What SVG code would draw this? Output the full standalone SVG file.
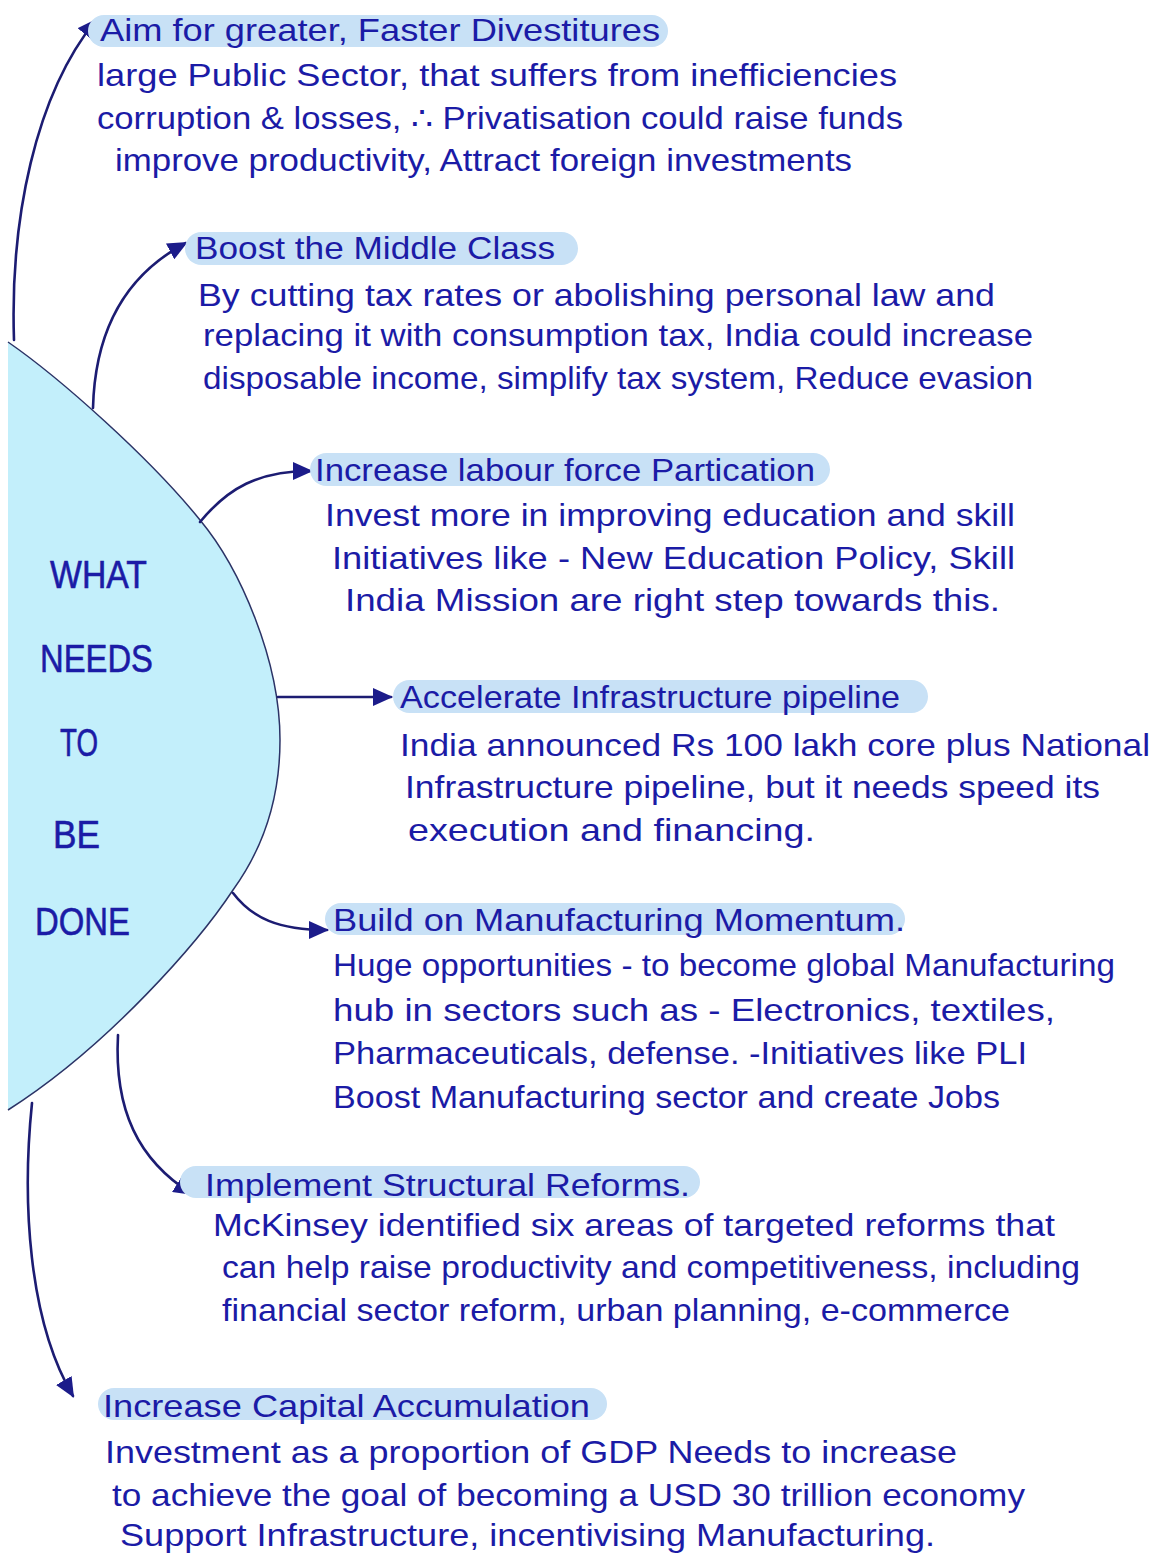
<svg xmlns="http://www.w3.org/2000/svg" width="1154" height="1557" viewBox="0 0 1154 1557">
  <style>
    .ink { font-family: "Liberation Sans", Arial, sans-serif; font-size: 32px; fill: #1b1ba6; }
    .hub { font-family: "Liberation Sans", Arial, sans-serif; font-size: 39px; fill: #1b1ba6; stroke: #1b1ba6; stroke-width: 0.6; }
    .bar { fill: #c8e1f6; }
    .link { fill: none; stroke: #1c1c72; stroke-width: 2.6; stroke-linecap: round; marker-end: url(#tip); }
  </style>
  <defs>
    <marker id="tip" markerUnits="userSpaceOnUse" markerWidth="22" markerHeight="18" refX="18" refY="9" orient="auto">
      <path d="M0,0 L20,9 L0,18 z" fill="#1c1c8a"/>
    </marker>
  </defs>

  <rect width="1154" height="1557" fill="#ffffff"/>

  <!-- central half-disc -->
  <g id="hub">
    <path d="M 8 342 C 60 378, 150 458, 200 520 C 240 568, 280 660, 280 740 C 280 800, 262 850, 233 890 C 200 940, 110 1045, 8 1110 Z" fill="#c3effb"/>
    <path d="M 8 342 C 60 378, 150 458, 200 520 C 240 568, 280 660, 280 740 C 280 800, 262 850, 233 890 C 200 940, 110 1045, 8 1110" fill="none" stroke="#2b3366" stroke-width="1.5"/>
    <text class="hub" x="50" y="588" textLength="97" lengthAdjust="spacingAndGlyphs">WHAT</text>
    <text class="hub" x="40" y="672" textLength="113" lengthAdjust="spacingAndGlyphs">NEEDS</text>
    <text class="hub" x="60" y="756" textLength="38" lengthAdjust="spacingAndGlyphs">TO</text>
    <text class="hub" x="53" y="848" textLength="47" lengthAdjust="spacingAndGlyphs">BE</text>
    <text class="hub" x="35" y="935" textLength="95" lengthAdjust="spacingAndGlyphs">DONE</text>
  </g>

  <!-- connectors from the hub to each point -->
  <g id="connectors">
    <path class="link" d="M 14 340 C 10 220, 35 95, 96 20"/>
    <path class="link" d="M 93 408 C 95 330, 125 275, 186 243"/>
    <path class="link" d="M 200 522 C 228 488, 258 471, 311 471"/>
    <path class="link" d="M 278 697 L 391 697"/>
    <path class="link" d="M 233 893 C 252 918, 278 930, 327 930"/>
    <path class="link" d="M 118 1035 C 114 1110, 138 1160, 192 1194"/>
    <path class="link" d="M 32 1103 C 22 1200, 28 1320, 73 1396"/>
  </g>

  <g id="divestitures">
    <rect class="bar" x="88" y="15" width="580" height="32" rx="16"/>
    <text class="ink" x="100" y="41" textLength="560" lengthAdjust="spacingAndGlyphs">Aim for greater, Faster Divestitures</text>
    <text class="ink" x="97" y="86" textLength="800" lengthAdjust="spacingAndGlyphs">large Public Sector, that suffers from inefficiencies</text>
    <text class="ink" x="97" y="129" textLength="806" lengthAdjust="spacingAndGlyphs">corruption &amp; losses, ∴ Privatisation could raise funds</text>
    <text class="ink" x="115" y="171" textLength="737" lengthAdjust="spacingAndGlyphs">improve productivity, Attract foreign investments</text>
  </g>

  <g id="middle-class">
    <rect class="bar" x="185" y="232" width="393" height="33" rx="16.5"/>
    <text class="ink" x="195" y="259" textLength="360" lengthAdjust="spacingAndGlyphs">Boost the Middle Class</text>
    <text class="ink" x="198" y="306" textLength="797" lengthAdjust="spacingAndGlyphs">By cutting tax rates or abolishing personal law and</text>
    <text class="ink" x="203" y="346" textLength="830" lengthAdjust="spacingAndGlyphs">replacing it with consumption tax, India could increase</text>
    <text class="ink" x="203" y="389" textLength="830" lengthAdjust="spacingAndGlyphs">disposable income, simplify tax system, Reduce evasion</text>
  </g>

  <g id="labour-force">
    <rect class="bar" x="310" y="453" width="520" height="33" rx="16.5"/>
    <text class="ink" x="315" y="481" textLength="500" lengthAdjust="spacingAndGlyphs">Increase labour force Partication</text>
    <text class="ink" x="325" y="526" textLength="690" lengthAdjust="spacingAndGlyphs">Invest more in improving education and skill</text>
    <text class="ink" x="332" y="569" textLength="683" lengthAdjust="spacingAndGlyphs">Initiatives like - New Education Policy, Skill</text>
    <text class="ink" x="345" y="611" textLength="655" lengthAdjust="spacingAndGlyphs">India Mission are right step towards this.</text>
  </g>

  <g id="infrastructure">
    <rect class="bar" x="393" y="680" width="535" height="33" rx="16.5"/>
    <text class="ink" x="400" y="708" textLength="500" lengthAdjust="spacingAndGlyphs">Accelerate Infrastructure pipeline</text>
    <text class="ink" x="400" y="756" textLength="750" lengthAdjust="spacingAndGlyphs">India announced Rs 100 lakh core plus National</text>
    <text class="ink" x="405" y="798" textLength="695" lengthAdjust="spacingAndGlyphs">Infrastructure pipeline, but it needs speed its</text>
    <text class="ink" x="408" y="841" textLength="407" lengthAdjust="spacingAndGlyphs">execution and financing.</text>
  </g>

  <g id="manufacturing">
    <rect class="bar" x="325" y="903" width="580" height="32" rx="16"/>
    <text class="ink" x="333" y="931" textLength="572" lengthAdjust="spacingAndGlyphs">Build on Manufacturing Momentum.</text>
    <text class="ink" x="333" y="976" textLength="782" lengthAdjust="spacingAndGlyphs">Huge opportunities - to become global Manufacturing</text>
    <text class="ink" x="333" y="1021" textLength="722" lengthAdjust="spacingAndGlyphs">hub in sectors such as - Electronics, textiles,</text>
    <text class="ink" x="333" y="1064" textLength="694" lengthAdjust="spacingAndGlyphs">Pharmaceuticals, defense. -Initiatives like PLI</text>
    <text class="ink" x="333" y="1108" textLength="667" lengthAdjust="spacingAndGlyphs">Boost Manufacturing sector and create Jobs</text>
  </g>

  <g id="structural-reforms">
    <rect class="bar" x="180" y="1166" width="520" height="32" rx="16"/>
    <text class="ink" x="205" y="1196" textLength="485" lengthAdjust="spacingAndGlyphs">Implement Structural Reforms.</text>
    <text class="ink" x="213" y="1236" textLength="842" lengthAdjust="spacingAndGlyphs">McKinsey identified six areas of targeted reforms that</text>
    <text class="ink" x="222" y="1278" textLength="858" lengthAdjust="spacingAndGlyphs">can help raise productivity and competitiveness, including</text>
    <text class="ink" x="222" y="1321" textLength="788" lengthAdjust="spacingAndGlyphs">financial sector reform, urban planning, e-commerce</text>
  </g>

  <g id="capital-accumulation">
    <rect class="bar" x="98" y="1388" width="509" height="32" rx="16"/>
    <text class="ink" x="103" y="1417" textLength="487" lengthAdjust="spacingAndGlyphs">Increase Capital Accumulation</text>
    <text class="ink" x="105" y="1463" textLength="852" lengthAdjust="spacingAndGlyphs">Investment as a proportion of GDP Needs to increase</text>
    <text class="ink" x="112" y="1506" textLength="913" lengthAdjust="spacingAndGlyphs">to achieve the goal of becoming a USD 30 trillion economy</text>
    <text class="ink" x="120" y="1546" textLength="815" lengthAdjust="spacingAndGlyphs">Support Infrastructure, incentivising Manufacturing.</text>
  </g>
</svg>
